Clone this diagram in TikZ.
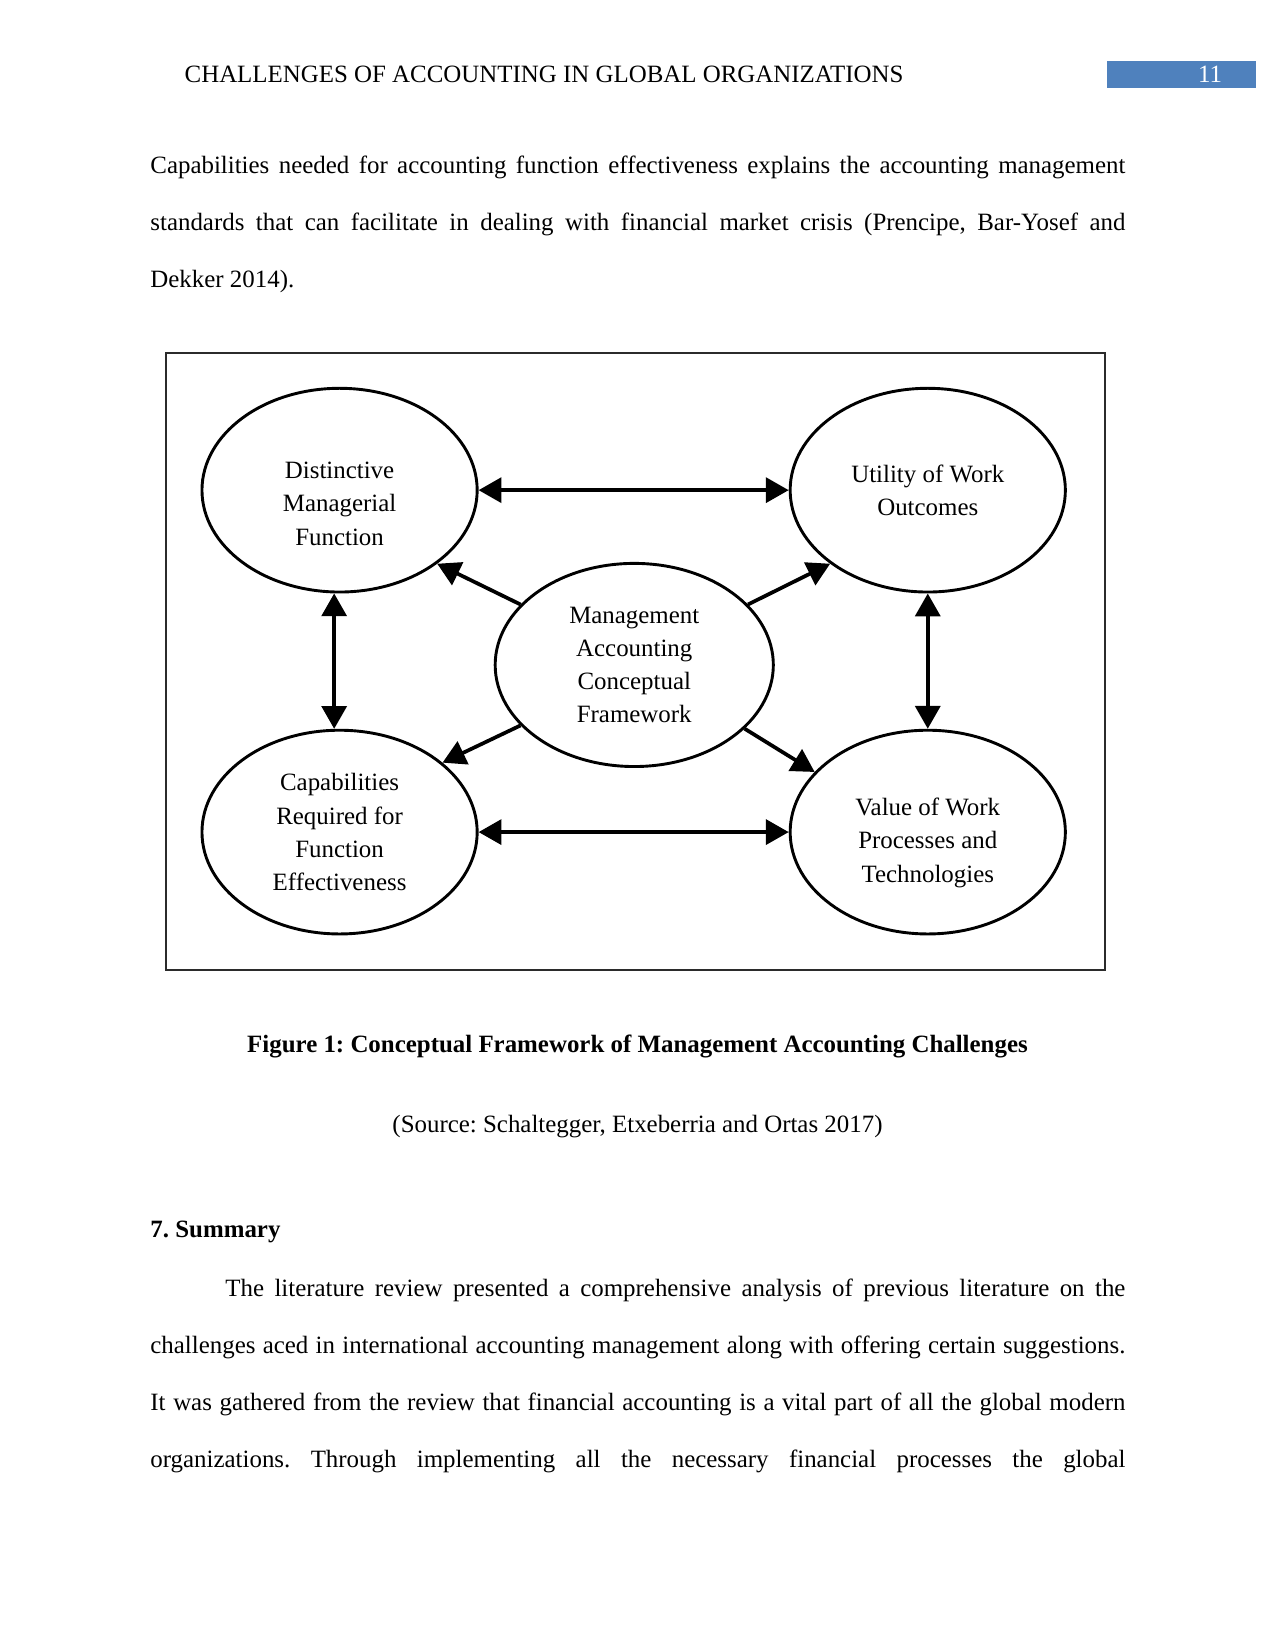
\documentclass[tikz,border=0pt]{standalone}
\usepackage{fontspec}
\setmainfont{Liberation Serif}
\usepackage{xcolor}
\definecolor{ink}{HTML}{000000}
\definecolor{hdrblue}{HTML}{4F81BD}
\definecolor{framegray}{HTML}{2B2B2B}
\usepackage{tikz}
\usetikzlibrary{positioning,shapes.geometric,arrows.meta}
\newcommand{\jline}[1]{\hbox to 16.51cm{#1}}
\frenchspacing

\begin{document}
\begin{tikzpicture}[
  font=\fontsize{12}{14}\selectfont,
  >={Triangle[length=11pt,width=12pt]},
  oval/.style={draw=ink, ellipse, line width=1.4pt, minimum width=4.66cm, minimum height=3.45cm,
               align=center, inner sep=0pt, font=\fontsize{12}{16}\selectfont},
  ovaltext/.style={align=center, inner sep=0pt, font=\fontsize{12}{16}\selectfont},
  link/.style={<->, ink, line width=1.8pt},
  spoke/.style={->, ink, line width=1.8pt},
  body/.style={anchor=base west, inner sep=0pt, text width=16.51cm, align=justify,
               font=\fontsize{12}{27.5}\selectfont}
]
  \useasboundingbox (0,0) rectangle (21.59,-27.94);

  % running head
  \node[anchor=base west, inner sep=0pt] (head) at (3.12,-1.39) {CHALLENGES OF ACCOUNTING IN GLOBAL ORGANIZATIONS};
  \node[fill=hdrblue, minimum width=2.52cm, minimum height=0.46cm, inner sep=0pt] (pgbox) at (20.01,-1.26) {};
  \node[anchor=base, text=white, inner sep=0pt] (pgno) at (20.49,-1.39) {11};

  \node[body] (para1) at (2.54,-2.93)
    {\jline{Capabilities needed for accounting function effectiveness explains the accounting management}\\
     \jline{standards that can facilitate in dealing with financial market crisis (Prencipe, Bar-Yosef and}\\
     Dekker 2014).};

  % figure
  \draw[framegray, line width=0.8pt] (2.81,-5.98) rectangle (18.71,-16.43);

  \node[oval] (dmf) at (5.75,-8.30) {};
  \node[ovaltext] (dmftext) at (5.75,-8.53) {Distinctive\\Managerial\\Function};
  \node[oval] (uwo) at (15.71,-8.30)  {Utility of Work\\Outcomes};
  \node[oval] (crf) at (5.75,-14.09)  {Capabilities\\Required for\\Function\\Effectiveness};
  \node[oval] (vwp) at (15.71,-14.09) {};
  \node[ovaltext] (vwptext) at (15.71,-14.27) {Value of Work\\Processes and\\Technologies};
  \node[oval, minimum width=4.71cm, minimum height=3.44cm] (macf) at (10.74,-11.26)
        {Management\\Accounting\\Conceptual\\Framework};

  \draw[link] (dmf) -- (uwo);
  \draw[link] (crf) -- (vwp);
  \draw[link] (dmf.-93) -- (crf.93);
  \draw[link] (uwo) -- (vwp);

  \draw[spoke] (macf.152) -- (dmf.-37);
  \draw[spoke] (macf.28) -- (uwo.-143);
  \draw[spoke] (macf.208) -- (crf.34);
  \draw[spoke] (macf.-30) -- (vwp.152);

  \node[anchor=base, inner sep=0pt] (cap) at (10.795,-17.83)
    {\bfseries Figure 1: Conceptual Framework of Management Accounting Challenges};
  \node[anchor=base, inner sep=0pt] (src) at (10.795,-19.17)
    {(Source: Schaltegger, Etxeberria and Ortas 2017)};

  % summary
  \node[anchor=base west, inner sep=0pt] (sec) at (2.54,-20.96) {\bfseries 7. Summary};
  \node[body] (para2) at (2.54,-21.95)
    {\jline{\hspace*{1.27cm}The literature review presented a comprehensive analysis of previous literature on the}\\
     \jline{challenges aced in international accounting management along with offering certain suggestions.}\\
     \jline{It was gathered from the review that financial accounting is a vital part of all the global modern}\\
     \jline{organizations. Through implementing all the necessary financial processes the global}};
\end{tikzpicture}
\end{document}
